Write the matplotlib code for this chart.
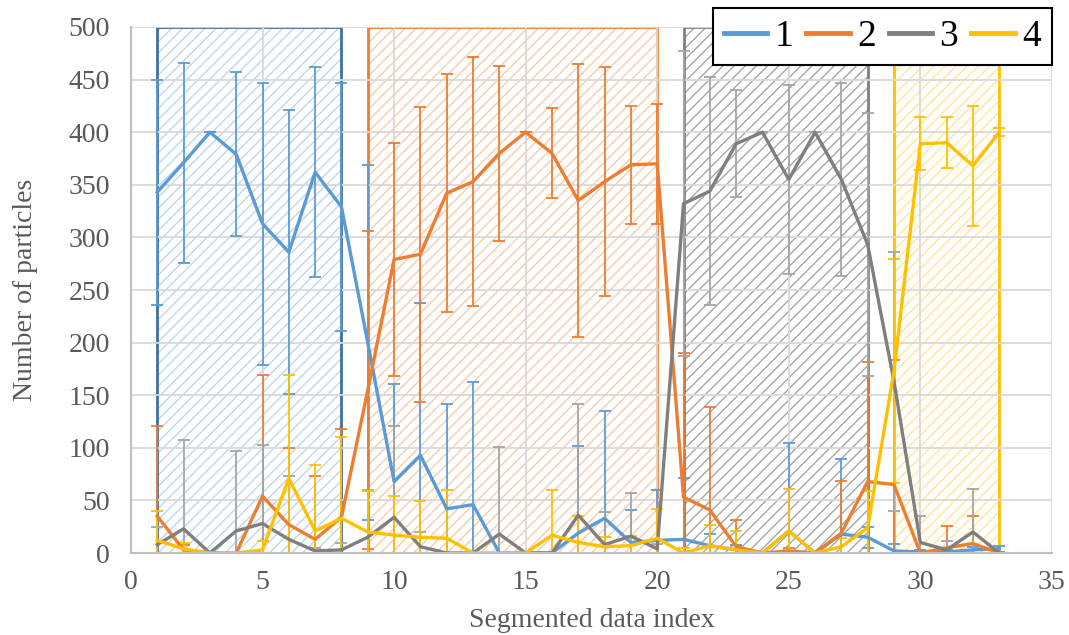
import matplotlib
matplotlib.use("Agg")
import matplotlib.pyplot as plt
from matplotlib.patches import Rectangle
from matplotlib.lines import Line2D
import numpy as np

plt.rcParams['font.family'] = ['Liberation Serif', 'DejaVu Serif']
plt.rcParams['hatch.linewidth'] = 1.0

# segment index
idx = np.arange(1, 34)

# mean particle counts per class
s1 = [343, 371, 400, 379, 313, 286, 362, 329, 200, 68, 93, 42, 46, 0, 0, 0, 19,
      33, 10, 12, 13, 7, 3, 0, 21, 0, 18, 15, 2, 1, 1, 3, 4]
s2 = [35, 3, 0, 0, 54, 27, 13, 34, 155, 279, 284, 342, 353, 380, 400, 380, 335,
      353, 369, 370, 53, 41, 6, 0, 2, 0, 19, 68, 65, 0, 5, 9, 0]
s3 = [8, 23, 0, 21, 28, 13, 2, 3, 15, 34, 6, 0, 0, 18, 0, 0, 36,
      8, 16, 4, 332, 344, 389, 400, 355, 400, 355, 293, 163, 10, 3, 20, 0]
s4 = [12, 4, 0, 0, 3, 71, 21, 33, 20, 17, 15, 14, 0, 0, 0, 17, 10,
      6, 7, 14, 0, 7, 3, 0, 21, 0, 6, 24, 173, 389, 390, 368, 400]

# standard deviations
e1 = [107, 95, 0, 78, 134, 135, 100, 118, 169, 93, 145, 100, 117, 0, 0, 0, 83,
      102, 31, 48, 58, 11, 5, 0, 84, 0, 71, 10, 7, 2, 2, 3, 3]
e2 = [86, 5, 0, 0, 115, 73, 60, 84, 151, 111, 140, 113, 118, 83, 0, 43, 130,
      109, 56, 57, 137, 98, 25, 0, 3, 0, 49, 114, 118, 0, 21, 26, 0]
e3 = [17, 84, 0, 76, 75, 60, 3, 7, 45, 87, 14, 0, 0, 83, 0, 0, 106,
      31, 41, 5, 145, 108, 51, 0, 90, 0, 92, 125, 123, 25, 8, 41, 0]
e4 = [28, 6, 0, 0, 8, 98, 63, 77, 39, 37, 34, 46, 0, 0, 0, 43, 25,
      9, 9, 28, 5, 20, 18, 0, 40, 0, 8, 35, 106, 25, 24, 57, 4]

labels = ['1', '2', '3', '4']
line_colors = ['#5B9BD5', '#ED7D31', '#7F7F7F', '#FFC000']
err_colors = ['#5B9BD5', '#ED7D31', '#A5A5A5', '#FFC000']

# class segments (start, end) with hatch / border colours
segments = [(1, 8), (9, 20), (21, 28), (29, 33)]
hatch_colors = ['#BDD7EE', '#F8CBAD', '#A6A6A6', '#FFE699']
border_colors = ['#41719C', '#ED7D31', '#7F7F7F', '#FFC000']

fig = plt.figure(figsize=(10.69, 6.35), dpi=100)
ax = fig.add_axes([0.1225, 0.1291, 0.8615, 0.8284])

for (a, b), hc, bc in zip(segments, hatch_colors, border_colors):
    ax.add_patch(Rectangle((a, 0), b - a, 500, facecolor='none', edgecolor=hc,
                           hatch='///', linewidth=0, zorder=0.2))
    ax.add_patch(Rectangle((a, 0), b - a, 500, facecolor='none', edgecolor=bc,
                           linewidth=2.0, zorder=0.3))

for y, e, lc, ec in zip([s1, s2, s3, s4], [e1, e2, e3, e4], line_colors, err_colors):
    ax.errorbar(idx, y, yerr=e, color=lc, ecolor=ec, linewidth=2.4,
                elinewidth=1.3, capsize=4, capthick=1.3)

ax.set_xlim(0, 35)
ax.set_ylim(0, 500)
ax.set_xticks(np.arange(0, 36, 5))
ax.set_yticks(np.arange(0, 501, 50))
ax.grid(True, color='#D9D9D9', linewidth=1.3)
ax.set_axisbelow(True)
for side in ['top', 'right']:
    ax.spines[side].set_visible(False)
for side in ['left', 'bottom']:
    ax.spines[side].set_color('#BFBFBF')
    ax.spines[side].set_linewidth(1.5)
ax.tick_params(length=0, labelsize=20, labelcolor='#595959')
ax.tick_params(axis='x', pad=12.5)
ax.tick_params(axis='y', pad=15)
ax.set_xlabel('Segmented data index', fontsize=20, color='#595959', labelpad=9)
ax.set_ylabel('Number of particles', fontsize=20, color='#595959', labelpad=22)

handles = [Line2D([], [], color=c, linewidth=3.5) for c in line_colors]
leg = fig.legend(handles, labels, loc='upper right', ncol=4,
                 bbox_to_anchor=(1052 / 1069, 1 - 8 / 635),
                 fontsize=27, frameon=True, fancybox=False, framealpha=1,
                 edgecolor='black', handlelength=1.15, handletextpad=0.2,
                 columnspacing=0.35, borderpad=0.3, borderaxespad=0)
leg.get_frame().set_linewidth(1.5)

fig.savefig('out.png', dpi=100)
